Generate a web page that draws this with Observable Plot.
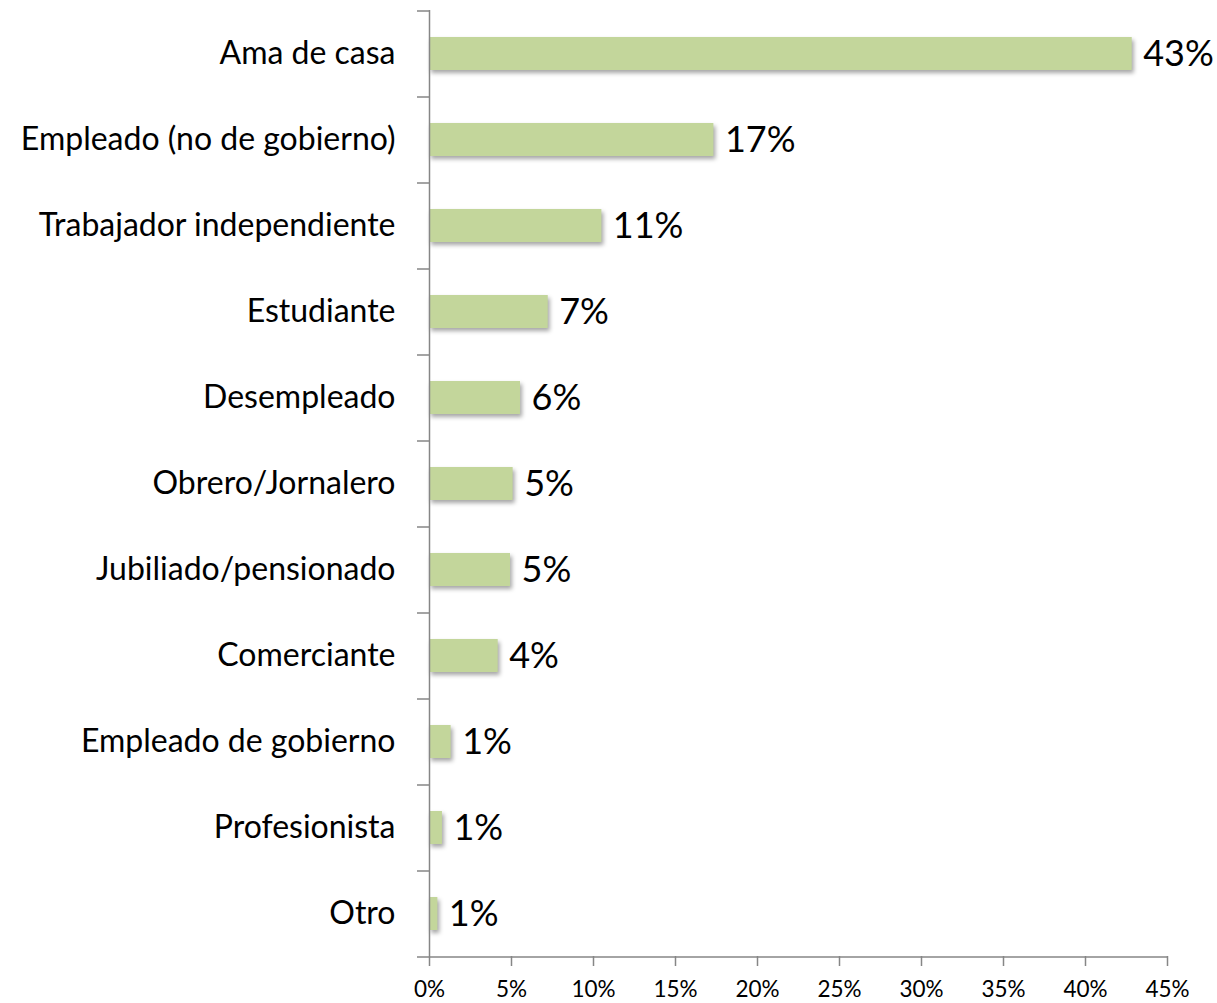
<!DOCTYPE html>
<html><head><meta charset="utf-8">
<script src="https://cdn.jsdelivr.net/npm/d3@7"></script>
<script src="https://cdn.jsdelivr.net/npm/@observablehq/plot@0.6"></script>
<style>
body{margin:0;background:#fff;}
g[aria-label="bar"] rect{filter: drop-shadow(2px 3px 2px rgba(0,0,0,0.35));}
</style></head><body><div id="chart"></div>
<script>
const categories = ["Ama de casa","Empleado (no de gobierno)","Trabajador independiente","Estudiante","Desempleado","Obrero/Jornalero","Jubiliado/pensionado","Comerciante","Empleado de gobierno","Profesionista","Otro"];
const values = [42.85, 17.34, 10.51, 7.24, 5.55, 5.10, 4.94, 4.19, 1.32, 0.79, 0.51];
const labels = ["43%","17%","11%","7%","6%","5%","5%","4%","1%","1%","1%"];
const xTicks = [0,5,10,15,20,25,30,35,40,45];

const data = categories.map((c,i)=>({category:c, value:values[i], label:labels[i]}));
const axisColor = "#868686";
const half = 946/categories.length/2;

const chart = Plot.plot({
  width:1217, height:1003,
  marginLeft:429, marginRight:50, marginTop:10, marginBottom:47,
  style:{fontFamily:"Lato, sans-serif", color:"#000", background:"#fff"},
  x:{domain:[0,45], label:null},
  y:{domain:categories, paddingInner:0.62, paddingOuter:0.31, label:null},
  marks:[
    Plot.barX(data,{y:"category", x:"value", fill:"#c3d69b"}),
    Plot.text(data,{y:"category", x:"value", text:"label", textAnchor:"start", dx:11, fontSize:36, fill:"#000"}),
    Plot.ruleX([0],{stroke:axisColor, strokeWidth:1.5}),
    Plot.ruleY([categories[categories.length-1]],{dy:half, stroke:axisColor, strokeWidth:1.5}),
    Plot.axisY({tickSize:12, tickFormat:()=>"", stroke:axisColor, strokeWidth:1.5, dy:-half, label:null}),
    Plot.axisY([categories[categories.length-1]],{tickSize:12, tickFormat:()=>"", stroke:axisColor, strokeWidth:1.5, dy:half, label:null}),
    Plot.axisY({tickSize:0, tickPadding:34, fontSize:32, fill:"#000", label:null}),
    Plot.axisX(xTicks,{tickFormat:d=>d+"%", tickSize:10, tickPadding:15, stroke:axisColor, strokeWidth:1.5, fontSize:22.5, fill:"#000", label:null})
  ]
});
document.getElementById("chart").appendChild(chart);
</script></body></html>
